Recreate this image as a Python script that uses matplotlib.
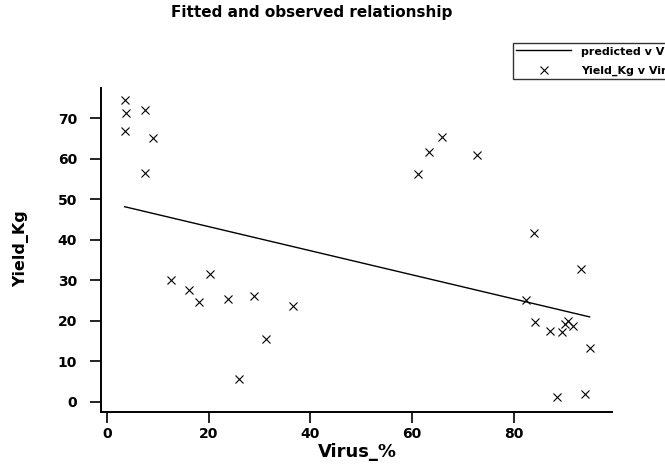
import matplotlib
matplotlib.use("Agg")
import matplotlib.pyplot as plt

# Observed data
virus_pct = [3.5, 3.7, 7.6, 3.5, 9.0, 7.6, 12.6, 16.2, 18.2, 20.3, 23.8, 26.0,
             28.9, 36.6, 31.2, 61.2, 63.4, 65.9, 72.8, 84.0, 93.2, 82.3, 84.2,
             87.1, 89.5, 90.1, 90.7, 91.6, 94.9, 88.4, 93.9]
yield_kg = [74.5, 71.3, 72.0, 66.8, 65.1, 56.4, 30.2, 27.6, 24.6, 31.6, 25.4, 5.6,
            26.2, 23.7, 15.5, 56.3, 61.7, 65.4, 61.0, 41.6, 32.8, 25.2, 19.8,
            17.6, 17.2, 19.3, 20.1, 18.8, 13.2, 1.2, 1.9]

# Fitted line (end points)
fit_x = [3.5, 94.9]
fit_y = [48.2, 21.0]

xticks = [0, 20, 40, 60, 80]
yticks = [0, 10, 20, 30, 40, 50, 60, 70]

title = "Fitted and observed relationship"
xlabel = "Virus_%"
ylabel = "Yield_Kg"
legend_labels = ["predicted v Virus_%", "Yield_Kg v Virus_%"]

plt.rcParams['font.family'] = ['DejaVu Sans']
plt.rcParams['font.weight'] = 'bold'

W, H = 665, 467
fig = plt.figure(figsize=(6.65, 4.67), dpi=100)
ax = fig.add_axes([100.7/W, 1-411.7/H, (612-100.7)/W, (411.7-88)/H])

line, = ax.plot(fit_x, fit_y, color='black', lw=1.0)
pts, = ax.plot(virus_pct, yield_kg, linestyle='none', marker='x', color='black',
               markersize=5.5, markeredgewidth=0.8)

ax.set_xlim(-1.2, 99.3)
ax.set_ylim(-2.4, 77.5)
ax.set_xticks(xticks)
ax.set_yticks(yticks)
ax.spines['top'].set_visible(False)
ax.spines['right'].set_visible(False)
for s in ['left', 'bottom']:
    ax.spines[s].set_linewidth(1.4)
ax.tick_params(axis='both', direction='out', length=8, width=1.2, labelsize=10)
ax.tick_params(axis='y', pad=9)
ax.tick_params(axis='x', pad=3)
for lab in ax.get_xticklabels() + ax.get_yticklabels():
    lab.set_fontweight('bold')

ax.set_xlabel(xlabel, fontsize=13, fontweight='bold', va='center')
ax.xaxis.set_label_coords(0.503, (411.7-452)/323.7)
ax.set_ylabel(ylabel, fontsize=11.5, fontweight='bold', va='center')
ax.yaxis.set_label_coords((21-100.7)/511.3, 0.503)
fig.text(311.5/W, 1-13/H, title, ha='center', va='center', fontsize=11, fontweight='bold')

leg = fig.legend([line, pts], legend_labels, loc='upper left',
                 bbox_to_anchor=(513/W, 1-43/H), fontsize=8,
                 frameon=True, fancybox=False, borderpad=0.3, borderaxespad=0,
                 handlelength=4.9, handletextpad=0.9, labelspacing=0.8)
leg.get_frame().set_edgecolor('black')
leg.get_frame().set_linewidth(1.0)
for t in leg.get_texts():
    t.set_fontweight('bold')

fig.savefig("out.png", dpi=100)
